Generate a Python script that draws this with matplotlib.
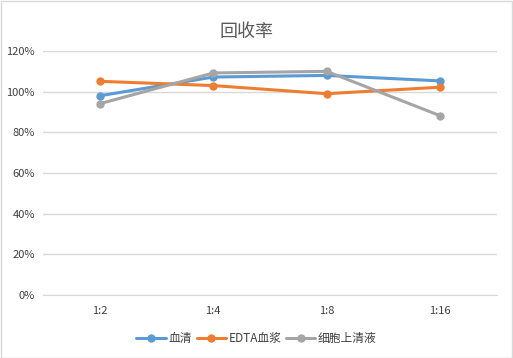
import matplotlib
matplotlib.use("Agg")
import matplotlib.pyplot as plt
from matplotlib.patches import Rectangle

plt.rcParams['font.family'] = ['Noto Sans CJK SC', 'DejaVu Sans']

categories = ["1:2", "1:4", "1:8", "1:16"]
serum = [98.0, 107.2, 108.0, 105.3]
edta_plasma = [105.1, 103.0, 99.0, 102.2]
supernatant = [94.1, 109.2, 110.0, 88.2]
series_names = ["血清", "EDTA血浆", "细胞上清液"]
colors = ["#5B9BD5", "#ED7D31", "#A5A5A5"]
yticks = [0, 20, 40, 60, 80, 100, 120]

fig = plt.figure(figsize=(5.13, 3.58), dpi=100)
ax = fig.add_axes([0.0843, 0.176, 0.884, 0.6815])

x = list(range(len(categories)))
for vals, name, c in zip([serum, edta_plasma, supernatant], series_names, colors):
    ax.plot(x, vals, color=c, lw=2.2, marker='o', markersize=5, label=name,
            solid_capstyle='round')

ax.set_xlim(-0.5, len(categories) - 0.5)
ax.set_ylim(0, 120)
ax.set_yticks(yticks)
ax.set_yticklabels([f"{v}%" for v in yticks])
ax.set_xticks(x)
ax.set_xticklabels(categories)
ax.yaxis.grid(True, color="#D9D9D9", lw=1)
ax.set_axisbelow(True)
for s in ax.spines.values():
    s.set_visible(False)
ax.spines['bottom'].set_visible(True)
ax.spines['bottom'].set_color("#D9D9D9")
ax.tick_params(axis='both', length=0, labelsize=8, labelcolor="#404040")
ax.tick_params(axis='x', pad=8)
ax.tick_params(axis='y', pad=6)

fig.text(0.48, 0.912, "回收率", ha='center', va='center', fontsize=13, color="#595959")

leg = fig.legend(loc='center', bbox_to_anchor=(0.5, 0.055), ncol=3, frameon=False,
                 fontsize=8.5, handlelength=2.5, columnspacing=0.4, handletextpad=0.2,
                 labelcolor="#404040")

fig.patches.append(Rectangle((0.001, 0.001), 0.997, 0.996, transform=fig.transFigure,
                             fill=False, edgecolor="#D9D9D9", lw=1))

fig.savefig("out.png", dpi=100, facecolor="white")
